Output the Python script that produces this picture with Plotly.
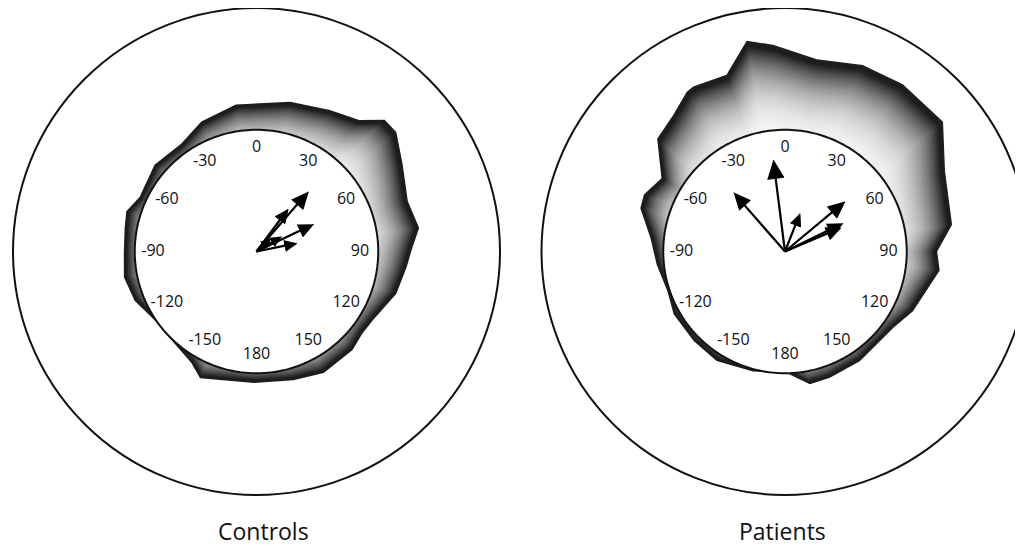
import numpy as np
import plotly.graph_objects as go

# ---------------- data ----------------
TICK_ANGLES = [0, 30, 60, 90, 120, 150, 180, -150, -120, -90, -60, -30]
TICK_LABELS = ["0", "30", "60", "90", "120", "150", "180", "-150", "-120", "-90", "-60", "-30"]

# outer boundary of shaded region (angle clockwise from top, radius relative to inner circle)
controls_theta = [-179, -156, -149.6, -140.7, -124, -112, -101, -90, -80, -72.8, -65, -49.6, -35,
                  -23, -8, 12.7, 27.4, 38, 44.2, 49.5, 59, 71.6, 81.8, 88.7, 96, 106.8, 120.7,
                  127.6, 135.7, 151, 164]
controls_r = [1.08, 1.14, 1.06, 1.02, 1.01, 1.08, 1.11, 1.09, 1.10, 1.12, 1.06, 1.10, 1.08,
              1.16, 1.22, 1.26, 1.31, 1.37, 1.51, 1.51, 1.40, 1.31, 1.35, 1.28, 1.24, 1.20, 1.11,
              1.10, 1.13, 1.14, 1.10]

patients_theta = [179, -165, -148, -134.4, -119.4, -108.7, -95.8, -84.4, -73.4, -68, -59.3, -48.6,
                  -39.3, -31.6, -29.1, -18.3, -10.3, -3.3, 9.4, 22.6, 35.2, 50.6, 63.4, 80.9, 90,
                  97, 115, 125, 145.7, 160.4, 169.4]
patients_r = [1.00, 1.02, 1.06, 1.05, 1.05, 1.02, 1.06, 1.11, 1.24, 1.25, 1.18, 1.40,
              1.45, 1.54, 1.55, 1.53, 1.76, 1.70, 1.60, 1.66, 1.68, 1.68, 1.47, 1.39, 1.25,
              1.28, 1.16, 1.09, 1.09, 1.10, 1.11]

# arrows (direction, length relative to inner circle)
controls_arrow_theta = [40.9, 36.6, 64.4, 78.5, 59, 47]
controls_arrow_len = [0.65, 0.435, 0.52, 0.34, 0.24, 0.16]
patients_arrow_theta = [-7.3, -41.2, 21.4, 50.2, 64, 67]
patients_arrow_len = [0.757, 0.64, 0.335, 0.64, 0.53, 0.50]

GROUPS = ["Controls", "Patients"]

# ---------------- figure ----------------
W, H = 1023, 549
fig = go.Figure()


def add_panel(subplot, theta, r, a_theta, a_len):
    theta = np.array(theta, dtype=float)
    r = np.array(r, dtype=float)
    # gradient blend: dark at the outer edge, fading to white toward the centre
    R0 = 0.45
    N = 48
    for k in range(N):
        t = 1 - k * 0.64 / N
        rr = R0 + (r - R0) * t
        g = int(round(255 * (1 - t ** 4)))
        g = max(g, 30)
        fig.add_trace(go.Scatterpolar(
            r=rr, theta=theta, mode="lines", fill="toself",
            fillcolor=f"rgb({g},{g},{g})", line=dict(width=0),
            hoverinfo="skip", showlegend=False, subplot=subplot))
    circ = np.linspace(0, 360, 241)
    fig.add_trace(go.Scatterpolar(
        r=np.ones_like(circ), theta=circ, mode="lines", fill="toself",
        fillcolor="white", line=dict(color="#111", width=2),
        hoverinfo="skip", showlegend=False, subplot=subplot))
    fig.add_trace(go.Scatterpolar(
        r=[0.85] * len(TICK_ANGLES), theta=TICK_ANGLES, mode="text", text=TICK_LABELS,
        textfont=dict(family="Open Sans", size=16, color="#111"),
        hoverinfo="skip", showlegend=False, subplot=subplot))
    for th, L in zip(a_theta, a_len):
        h = 0.06 + 0.12 * L          # head length
        w = 0.45 * h                 # head half-width
        rb = L - h
        rc = float(np.hypot(rb, w))
        dth = float(np.degrees(np.arctan2(w, rb)))
        fig.add_trace(go.Scatterpolar(
            r=[0, L - 0.8 * h], theta=[th, th], mode="lines",
            line=dict(color="black", width=2.2),
            hoverinfo="skip", showlegend=False, subplot=subplot))
        fig.add_trace(go.Scatterpolar(
            r=[L, rc, rc], theta=[th, th + dth, th - dth], mode="lines", fill="toself",
            fillcolor="black", line=dict(color="black", width=1),
            hoverinfo="skip", showlegend=False, subplot=subplot))


add_panel("polar", controls_theta, controls_r, controls_arrow_theta, controls_arrow_len)
add_panel("polar2", patients_theta, patients_r, patients_arrow_theta, patients_arrow_len)


def polar_layout(xd, yd):
    return dict(
        domain=dict(x=xd, y=yd),
        bgcolor="white",
        radialaxis=dict(visible=False, range=[0, 2]),
        angularaxis=dict(rotation=90, direction="clockwise", showline=True,
                         linecolor="#111", linewidth=2, showgrid=False,
                         showticklabels=False, ticks=""),
    )


fig.update_layout(
    width=W, height=H,
    margin=dict(l=0, r=0, t=0, b=0),
    paper_bgcolor="white", plot_bgcolor="white",
    showlegend=False,
    polar=polar_layout([5 / W, 492 / W], [1 - 487 / H, 1.0]),
    polar2=polar_layout([531 / W, 1.0], [1 - 487 / H, 1.0]),
    annotations=[
        dict(text=GROUPS[0], x=255.5 / W, y=1 - 523 / H, xref="paper", yref="paper",
             showarrow=False, font=dict(family="Open Sans", size=23, color="#111"),
             xanchor="center", yanchor="middle"),
        dict(text=GROUPS[1], x=774.5 / W, y=1 - 523 / H, xref="paper", yref="paper",
             showarrow=False, font=dict(family="Open Sans", size=23, color="#111"),
             xanchor="center", yanchor="middle"),
    ],
)

fig.write_html("out.html")
